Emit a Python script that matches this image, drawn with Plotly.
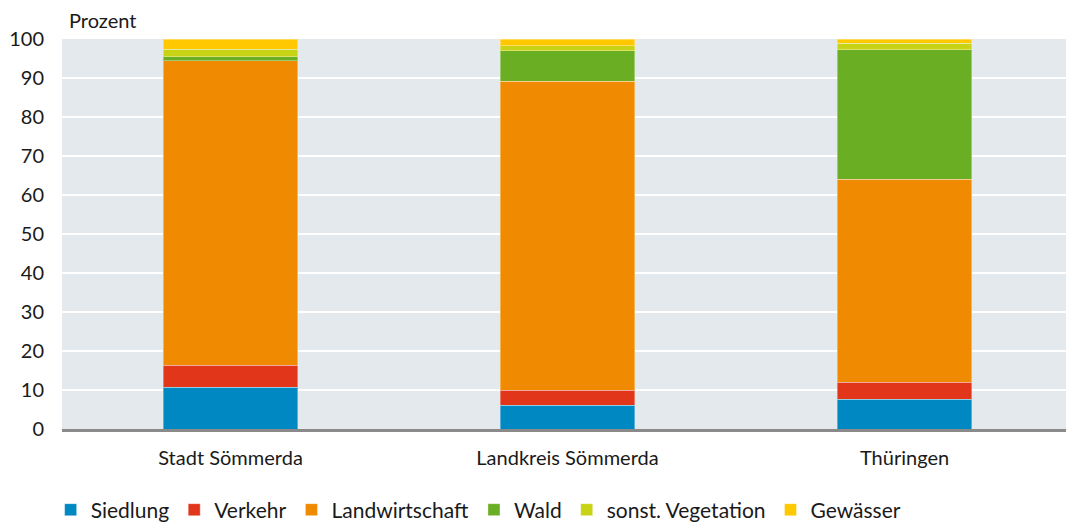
import plotly.graph_objects as go

categories = ["Stadt Sömmerda", "Landkreis Sömmerda", "Thüringen"]
series_names = ["Siedlung", "Verkehr", "Landwirtschaft", "Wald", "sonst. Vegetation", "Gewässer"]
siedlung = [10.7, 6.1, 7.6]
verkehr = [5.7, 3.9, 4.4]
landwirtschaft = [78.0, 79.2, 52.0]
wald = [1.1, 7.8, 33.3]
sonst_vegetation = [1.9, 1.3, 1.6]
gewaesser = [2.6, 1.7, 1.1]
colors = ["#0088C2", "#E2361A", "#F08A00", "#6AAF23", "#C8D316", "#FFC800"]
y_ticks = list(range(0, 101, 10))

values = [siedlung, verkehr, landwirtschaft, wald, sonst_vegetation, gewaesser]
FONT = "Source Sans Pro, Lato, Noto Sans, sans-serif"

fig = go.Figure()
for name, vals, col in zip(series_names, values, colors):
    fig.add_trace(go.Bar(
        x=categories, y=vals, name=name,
        marker=dict(color=col, line=dict(width=1, color="rgba(255,255,255,0.35)")),
        hoverinfo="x+y+name",
    ))

# page body has an 8px margin, so the figure is sized to fit inside the window
fig.update_layout(
    barmode="stack",
    bargap=0.6,
    width=1066, height=517,
    margin=dict(l=54, r=6, t=31, b=96),
    paper_bgcolor="white",
    plot_bgcolor="#E4E9ED",
    font=dict(family=FONT, size=20, color="#1a1a1a"),
    showlegend=True,
    legend=dict(
        orientation="h", xref="container", yref="container",
        x=0.04, xanchor="left", y=0.029, yanchor="middle",
        font=dict(family=FONT, size=21, color="#1a1a1a"),
        itemwidth=30, tracegroupgap=0, traceorder="normal",
    ),
    xaxis=dict(
        showgrid=False, ticks="", showline=True, linecolor="#8A8A8A", linewidth=3,
        tickfont=dict(size=20), automargin=False, ticklabelstandoff=9,
        range=[-0.5, 2.485],
    ),
    yaxis=dict(
        range=[0, 100], tickvals=y_ticks, showgrid=True, gridcolor="white", gridwidth=2,
        zeroline=False, ticks="", tickfont=dict(size=20), ticklabelstandoff=17,
        automargin=False,
    ),
    annotations=[dict(
        text="Prozent", xref="paper", yref="paper", x=0.005, y=1.0, xanchor="left",
        yanchor="bottom", yshift=5, showarrow=False, font=dict(family=FONT, size=20, color="#1a1a1a"),
    )],
)

fig.write_html("out.html")
